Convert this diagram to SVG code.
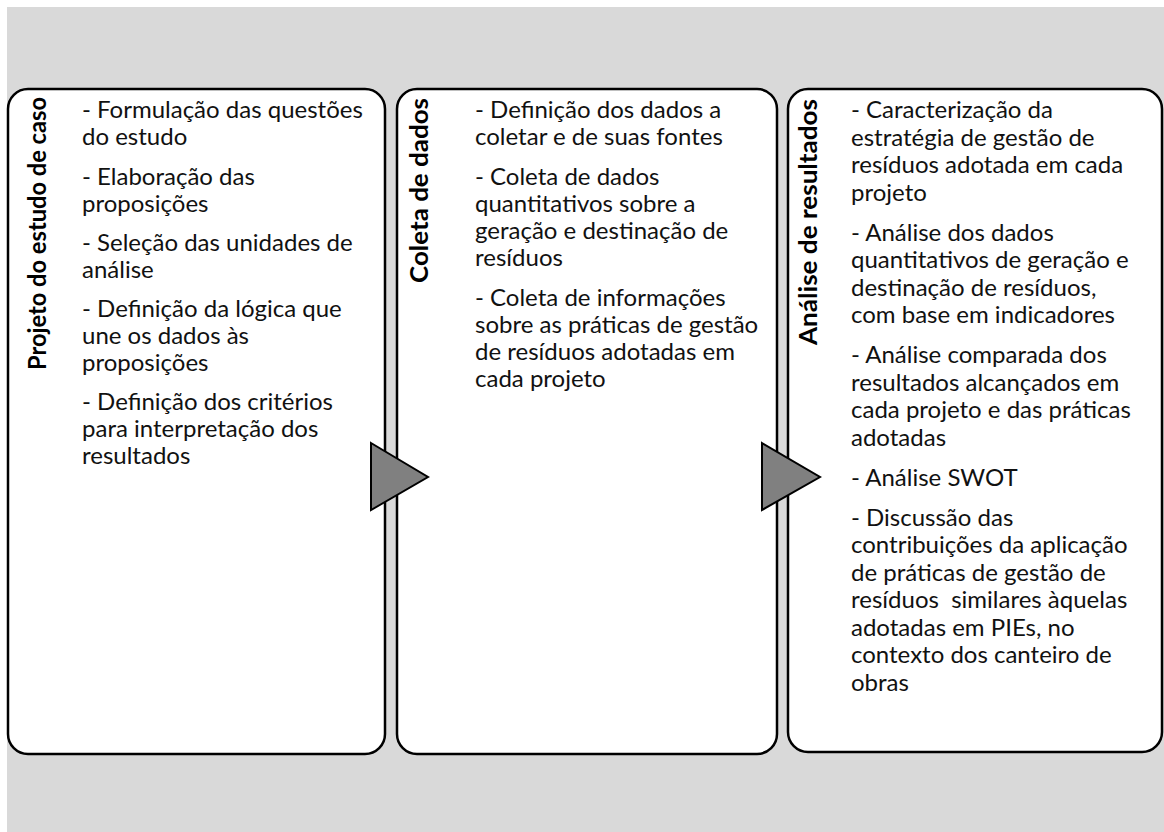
<svg xmlns="http://www.w3.org/2000/svg" width="1164" height="832" viewBox="0 0 1164 832">
<style>
.box{fill:#ffffff;stroke:#000000;stroke-width:2.5}
.tri{fill:#808080;stroke:#000000;stroke-width:2;stroke-linejoin:miter}
.title{font-family:Lato,"Open Sans","Liberation Sans",sans-serif;font-size:24px;font-weight:bold;fill:#000}
.body{font-family:Lato,"Open Sans","Liberation Sans",sans-serif;font-size:24px;fill:#111}
</style>
<rect x="0" y="0" width="1164" height="832" fill="#ffffff"/>
<rect x="7" y="7" width="1157" height="825" fill="#d9d9d9"/>
<g id="node-projeto">
<rect class="box" x="8" y="89" width="377" height="665" rx="20" ry="20"/>
<text class="title" transform="translate(46,97) rotate(-90)" text-anchor="end" textLength="273" lengthAdjust="spacingAndGlyphs">Projeto do estudo de caso</text>
<text class="body">
<tspan x="82" y="118">- Formulação das questões</tspan>
<tspan x="82" y="145">do estudo</tspan>
<tspan x="82" y="185">- Elaboração das</tspan>
<tspan x="82" y="212">proposições</tspan>
<tspan x="82" y="251">- Seleção das unidades de</tspan>
<tspan x="82" y="278">análise</tspan>
<tspan x="82" y="317">- Definição da lógica que</tspan>
<tspan x="82" y="344">une os dados às</tspan>
<tspan x="82" y="371">proposições</tspan>
<tspan x="82" y="410">- Definição dos critérios</tspan>
<tspan x="82" y="437">para interpretação dos</tspan>
<tspan x="82" y="464">resultados</tspan>
</text>
</g>
<g id="node-coleta">
<rect class="box" x="397" y="89" width="380" height="665" rx="20" ry="20"/>
<text class="title" transform="translate(428,98) rotate(-90)" text-anchor="end" textLength="185" lengthAdjust="spacingAndGlyphs">Coleta de dados</text>
<text class="body">
<tspan x="475" y="118">- Definição dos dados a</tspan>
<tspan x="475" y="145">coletar e de suas fontes</tspan>
<tspan x="475" y="185">- Coleta de dados</tspan>
<tspan x="475" y="212">quantitativos sobre a</tspan>
<tspan x="475" y="239">geração e destinação de</tspan>
<tspan x="475" y="266">resíduos</tspan>
<tspan x="475" y="306">- Coleta de informações</tspan>
<tspan x="475" y="333">sobre as práticas de gestão</tspan>
<tspan x="475" y="360">de resíduos adotadas em</tspan>
<tspan x="475" y="387">cada projeto</tspan>
</text>
</g>
<g id="node-analise">
<rect class="box" x="788" y="89" width="374" height="663" rx="20" ry="20"/>
<text class="title" transform="translate(817,99) rotate(-90)" text-anchor="end" textLength="246" lengthAdjust="spacingAndGlyphs">Análise de resultados</text>
<text class="body">
<tspan x="851" y="118">- Caracterização da</tspan>
<tspan x="851" y="145.5">estratégia de gestão de</tspan>
<tspan x="851" y="173">resíduos adotada em cada</tspan>
<tspan x="851" y="200.5">projeto</tspan>
<tspan x="851" y="240.5">- Análise dos dados</tspan>
<tspan x="851" y="268">quantitativos de geração e</tspan>
<tspan x="851" y="295.5">destinação de resíduos,</tspan>
<tspan x="851" y="323">com base em indicadores</tspan>
<tspan x="851" y="363">- Análise comparada dos</tspan>
<tspan x="851" y="390.5">resultados alcançados em</tspan>
<tspan x="851" y="418">cada projeto e das práticas</tspan>
<tspan x="851" y="445.5">adotadas</tspan>
<tspan x="851" y="485.5">- Análise SWOT</tspan>
<tspan x="851" y="525.5">- Discussão das</tspan>
<tspan x="851" y="553">contribuições da aplicação</tspan>
<tspan x="851" y="580.5">de práticas de gestão de</tspan>
<tspan x="851" y="608" xml:space="preserve">resíduos  similares àquelas</tspan>
<tspan x="851" y="635.5">adotadas em PIEs, no</tspan>
<tspan x="851" y="663">contexto dos canteiro de</tspan>
<tspan x="851" y="690.5">obras</tspan>
</text>
</g>
<g id="connectors">
<polygon class="tri" points="371,443 428,477 371,510"/>
<polygon class="tri" points="762,443 820,477 762,510"/>
</g>
</svg>
